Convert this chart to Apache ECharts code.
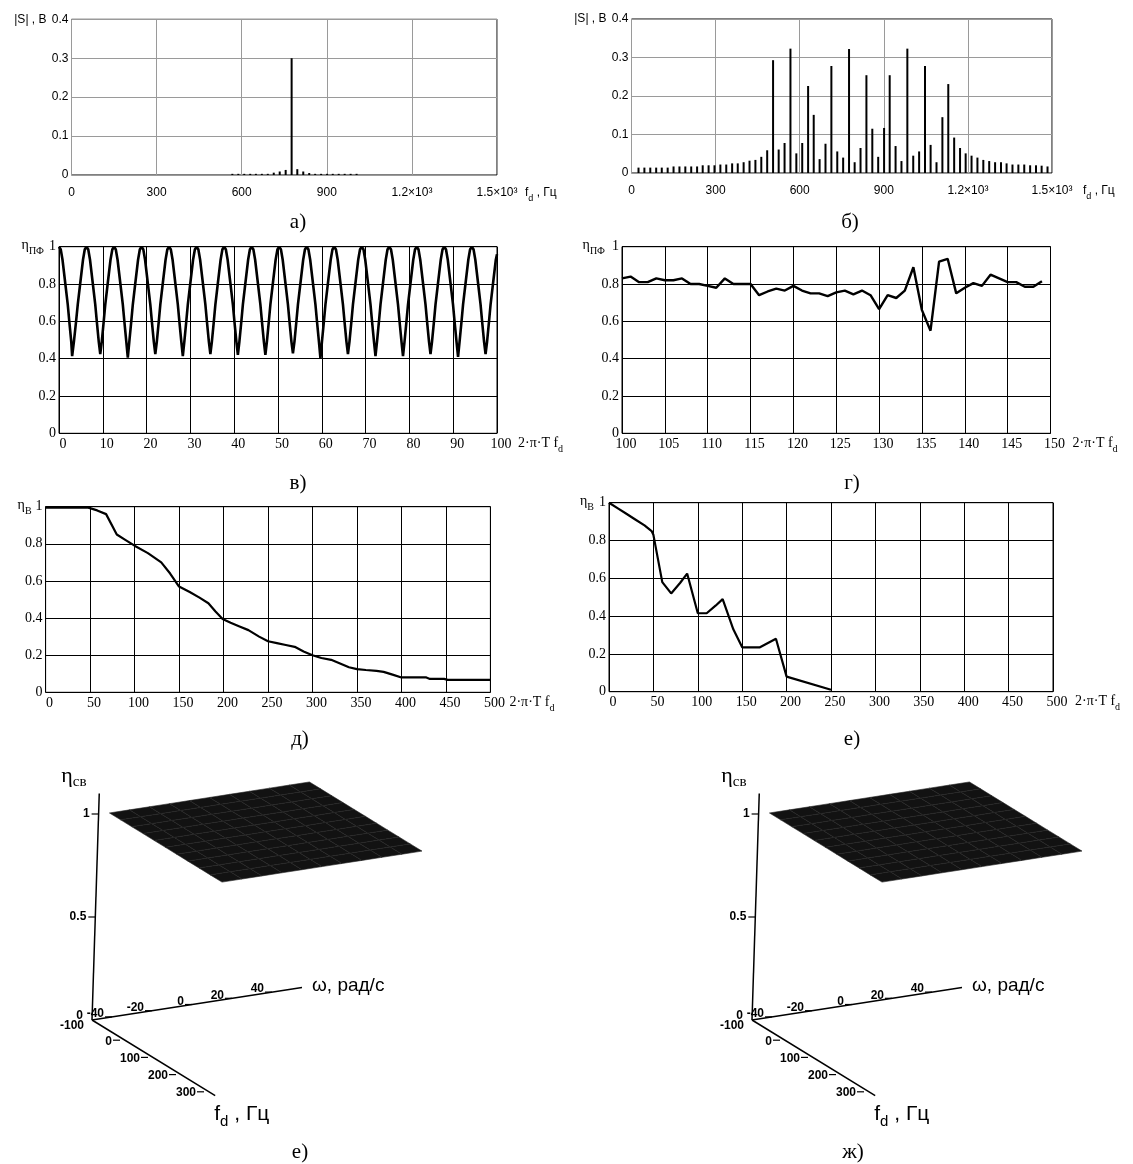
<!DOCTYPE html>
<html><head><meta charset="utf-8">
<script src="https://cdn.jsdelivr.net/npm/echarts@6/dist/echarts.min.js"></script>
<style>html,body{margin:0;padding:0;background:#fff}#c{width:1133px;height:1164px}</style>
</head><body><div id="c"></div>
<script>
// ---------------- DATA ----------------
const specFreq = [25,46,67,88,108,129,150,171,192,213,234,254,275,296,317,338,359,379,400,421,442,463,484,505,525,546,567,588,609,630,650,671,692,713,734,755,776,796,817,838,859,880,901,921,942,963,984,1005,1026,1047,1067,1088,1109,1130,1151,1172,1192,1213,1234,1255,1276,1297,1318,1338,1359,1380,1401,1422,1443,1463,1484];
const specA = [0,0,0,0,0,0,0,0,0,0,0,0,0,0,0,0,0,0,0,0,0,0,0,0,0,0,
  0.003,0.003,0.003,0.003,0.003,0.003,0.003,0.006,0.009,0.013,0.300,0.015,0.009,0.005,0.003,0.003,0.003,0.003,0.003,0.003,0.003,0.003,
  0,0,0,0,0,0,0,0,0,0,0,0,0,0,0,0,0,0,0,0,0,0,0];
const specB = [0.014,0.014,0.014,0.014,0.014,0.014,0.017,0.017,0.017,0.017,0.017,0.020,0.020,0.020,0.022,0.022,0.025,0.025,0.028,0.032,
  0.034,0.042,0.059,0.293,0.061,0.078,0.323,0.051,0.078,0.226,0.151,0.036,0.076,0.278,0.056,0.040,0.322,0.028,0.065,0.254,
  0.115,0.042,0.117,0.254,0.070,0.031,0.323,0.045,0.056,0.278,0.073,0.028,0.145,0.231,0.092,0.065,0.051,0.045,0.040,0.034,
  0.031,0.028,0.028,0.025,0.022,0.022,0.022,0.020,0.020,0.019,0.017];
const specTickLabels = {0:'0',300:'300',600:'600',900:'900',1200:'1.2×10³',1500:'1.5×10³'};

const etaPF1 = [
[0,1],[0.4,0.985],[0.8,0.93],[1.45,0.8],[2,0.69],[2.35,0.6],[2.8,0.49],[3.0,0.414],[3.4,0.49],[3.9,0.6],[4.28,0.69],[4.83,0.8],[5.48,0.93],[5.88,0.985],
[6.28,1],[6.68,0.985],[7.08,0.93],[7.73,0.8],[8.28,0.69],[8.63,0.6],[9.08,0.49],[9.42,0.425],[9.76,0.49],[10.21,0.6],[10.56,0.69],[11.11,0.8],[11.76,0.93],[12.17,0.985],
[12.57,1],[12.97,0.985],[13.37,0.93],[14.02,0.8],[14.57,0.69],[14.92,0.6],[15.37,0.49],[15.71,0.405],[16.05,0.49],[16.5,0.6],[16.85,0.69],[17.4,0.8],[18.05,0.93],[18.45,0.985],
[18.85,1],[19.25,0.985],[19.65,0.93],[20.3,0.8],[20.85,0.69],[21.2,0.6],[21.65,0.49],[21.99,0.425],[22.33,0.49],[22.78,0.6],[23.13,0.69],[23.68,0.8],[24.33,0.93],[24.73,0.985],
[25.13,1],[25.53,0.985],[25.93,0.93],[26.58,0.8],[27.13,0.69],[27.48,0.6],[27.93,0.49],[28.27,0.414],[28.61,0.49],[29.06,0.6],[29.41,0.69],[29.96,0.8],[30.61,0.93],[31.02,0.985],
[31.42,1],[31.82,0.985],[32.22,0.93],[32.87,0.8],[33.42,0.69],[33.77,0.6],[34.22,0.49],[34.56,0.425],[34.9,0.49],[35.35,0.6],[35.7,0.69],[36.25,0.8],[36.9,0.93],[37.3,0.985],
[37.7,1],[38.1,0.985],[38.5,0.93],[39.15,0.8],[39.7,0.69],[40.05,0.6],[40.5,0.49],[40.84,0.42],[41.18,0.49],[41.63,0.6],[41.98,0.69],[42.53,0.8],[43.18,0.93],[43.58,0.985],
[43.98,1],[44.38,0.985],[44.78,0.93],[45.43,0.8],[45.98,0.69],[46.33,0.6],[46.78,0.49],[47.12,0.42],[47.46,0.49],[47.91,0.6],[48.26,0.69],[48.81,0.8],[49.46,0.93],[49.87,0.985],
[50.27,1],[50.67,0.985],[51.07,0.93],[51.72,0.8],[52.27,0.69],[52.62,0.6],[53.07,0.49],[53.41,0.428],[53.75,0.49],[54.2,0.6],[54.55,0.69],[55.1,0.8],[55.75,0.93],[56.15,0.985],
[56.55,1],[56.95,0.985],[57.35,0.93],[58,0.8],[58.55,0.69],[58.9,0.6],[59.35,0.49],[59.69,0.402],[60.03,0.49],[60.48,0.6],[60.83,0.69],[61.38,0.8],[62.03,0.93],[62.43,0.985],
[62.83,1],[63.23,0.985],[63.63,0.93],[64.28,0.8],[64.83,0.69],[65.18,0.6],[65.63,0.49],[65.97,0.425],[66.31,0.49],[66.76,0.6],[67.11,0.69],[67.66,0.8],[68.31,0.93],[68.72,0.985],
[69.12,1],[69.52,0.985],[69.92,0.93],[70.57,0.8],[71.12,0.69],[71.47,0.6],[71.92,0.49],[72.26,0.414],[72.6,0.49],[73.05,0.6],[73.4,0.69],[73.95,0.8],[74.6,0.93],[75.0,0.985],
[75.4,1],[75.8,0.985],[76.2,0.93],[76.85,0.8],[77.4,0.69],[77.75,0.6],[78.2,0.49],[78.54,0.414],[78.88,0.49],[79.33,0.6],[79.68,0.69],[80.23,0.8],[80.88,0.93],[81.28,0.985],
[81.68,1],[82.08,0.985],[82.48,0.93],[83.13,0.8],[83.68,0.69],[84.03,0.6],[84.48,0.49],[84.82,0.425],[85.16,0.49],[85.61,0.6],[85.96,0.69],[86.51,0.8],[87.16,0.93],[87.56,0.985],
[87.96,1],[88.36,0.985],[88.76,0.93],[89.41,0.8],[89.96,0.69],[90.31,0.6],[90.76,0.49],[91.11,0.41],[91.45,0.49],[91.9,0.6],[92.25,0.69],[92.8,0.8],[93.45,0.93],[93.85,0.985],
[94.25,1],[94.65,0.985],[95.05,0.93],[95.7,0.8],[96.25,0.69],[96.6,0.6],[97.05,0.49],[97.39,0.425],[97.73,0.49],[98.18,0.6],[98.53,0.69],[99.08,0.8],[99.73,0.93],[100,0.96]
];
const etaPF2x = [100,101,102,103,104,105,106,107,108,109,110,111,112,113,114,115,116,117,118,119,120,121,122,123,124,125,126,127,128,129,130,131,132,133,134,135,136,137,138,139,140,141,142,143,144,145,146,147,148,149];
const etaPF2y = [0.83,0.84,0.81,0.81,0.83,0.82,0.82,0.83,0.80,0.80,0.79,0.78,0.83,0.80,0.80,0.80,0.74,0.76,0.775,0.765,0.79,0.765,0.75,0.75,0.735,0.755,0.765,0.745,0.765,0.74,0.665,0.74,0.725,0.765,0.89,0.66,0.55,0.92,0.935,0.75,0.78,0.805,0.79,0.85,0.83,0.81,0.81,0.785,0.785,0.815];
const etaB1 = [[0,0.995],[10,0.995],[20,0.995],[30,0.995],[40,0.995],[48,0.995],[58,0.98],[68,0.96],[80,0.85],[90,0.82],[100,0.79],[115,0.75],[130,0.70],[140,0.64],[150,0.57],[162,0.54],[173,0.51],[183,0.48],[191,0.435],[199,0.395],[208,0.375],[218,0.355],[228,0.335],[240,0.30],[250,0.275],[260,0.265],[270,0.255],[280,0.245],[290,0.22],[300,0.20],[310,0.185],[321,0.175],[331,0.155],[341,0.135],[350,0.125],[360,0.12],[372,0.115],[380,0.11],[390,0.095],[400,0.08],[410,0.08],[428,0.08],[432,0.072],[448,0.072],[452,0.067],[500,0.067]];
const etaB2 = [[0,1.0],[10,0.97],[20,0.94],[30,0.91],[40,0.88],[48,0.85],[50,0.83],[60,0.58],[70,0.52],[80,0.575],[88,0.625],[90,0.615],[100,0.415],[110,0.415],[120,0.455],[128,0.49],[130,0.48],[140,0.33],[150,0.235],[170,0.235],[188,0.28],[190,0.275],[200,0.08],[250,0.01]];

// 3D panels (е, ж): surface η_св = 1 over ω, f_d
const surfOmega = [-45,-35,-25,-15,-5,5,15,25,35,45,55];
const surfFd = [-97,-57,-17,23,63,103,143,183,223,263,305];
const surfEta = 1;
const omegaTicks = [-40,-20,0,20,40];
const fdTicks = [-100,0,100,200,300];
const etaTicks = [0,0.5,1];
const panelTitles = ['а)','б)','в)','г)','д)','е)','е)','ж)'];

// ---------------- LAYOUT ----------------
const chart = echarts.init(document.getElementById('c'), null, {renderer:'canvas'});
const SANS = '"Liberation Sans", Arial, sans-serif';
const SERIF = '"Liberation Serif", "Times New Roman", serif';

const grids = [
  {left:71.5, top:19.3, width:425.5, height:155.7},
  {left:631.5, top:19, width:420.5, height:154},
  {left:59, top:246.7, width:438, height:186.6},
  {left:622, top:246.7, width:428.5, height:186.6},
  {left:45.6, top:506.7, width:444.8, height:185.6},
  {left:609, top:502.7, width:444, height:189},
  {left:0, top:0, width:1133, height:1164, show:false}
].map((g,i)=>Object.assign({outerBoundsMode:'none', containLabel:false, show: i<6, borderColor:'#000', borderWidth:1, backgroundColor:'transparent'}, g));

function richName(main, sub, rest, font, size, subSize){
  return {
    text: '{m|'+main+'}{s|'+sub+'}' + (rest ? '{m|'+rest+'}' : ''),
    rich: {
      m:{fontFamily:font, fontSize:size, lineHeight:size+2, verticalAlign:'top', color:'#000'},
      s:{fontFamily:font, fontSize:subSize, lineHeight:subSize, padding:[Math.round(size*0.55),0,0,0], verticalAlign:'top', color:'#000'}
    }
  };
}

function specX(gi, gap){
  const n = richName('f','d',' , Гц', SANS, 12, 9);
  return {gridIndex:gi, type:'value', min:0, max:1500, interval:300,
    axisLine:{show:false}, axisTick:{show:false},
    splitLine:{show:true, lineStyle:{color:'#9a9a9a', width:1}},
    axisLabel:{margin:12, color:'#000', fontFamily:SANS, fontSize:12, formatter:v=>specTickLabels[v]},
    name:n.text, nameLocation:'end', nameGap:gap, nameMoveOverlap:false,
    nameTextStyle:{align:'left', verticalAlign:'top', padding:[12,0,0,0], rich:n.rich}};
}
function specY(gi){
  return {gridIndex:gi, type:'value', min:0, max:0.4, interval:0.1,
    axisLine:{show:false}, axisTick:{show:false},
    splitLine:{show:true, lineStyle:{color:'#9a9a9a', width:1}},
    axisLabel:{margin:3, color:'#000', fontFamily:SANS, fontSize:12, formatter:v=>String(+v.toFixed(1))},
    name:'|S| , В', nameLocation:'end', nameGap:0, nameMoveOverlap:false,
    nameTextStyle:{align:'right', verticalAlign:'middle', padding:[0,25,0,0], fontFamily:SANS, fontSize:12, color:'#000'}};
}
function effX(gi, min, max, iv, gap){
  const n = richName('2·π·T f','d','', SERIF, 14, 10);
  return {gridIndex:gi, type:'value', min:min, max:max, interval:iv,
    axisLine:{show:false}, axisTick:{show:false},
    splitLine:{show:true, lineStyle:{color:'#000', width:1}},
    axisLabel:{margin:4, padding:[0,0,0,8], color:'#000', fontFamily:SERIF, fontSize:14},
    name:n.text, nameLocation:'end', nameGap:gap, nameMoveOverlap:false,
    nameTextStyle:{align:'left', verticalAlign:'top', padding:[3,0,0,0], rich:n.rich}};
}
function effY(gi, sub, pad){
  const n = richName('η', sub, '', SERIF, 14, 10);
  return {gridIndex:gi, type:'value', min:0, max:1, interval:0.2,
    axisLine:{show:false}, axisTick:{show:false},
    splitLine:{show:true, lineStyle:{color:'#000', width:1}},
    axisLabel:{margin:3, color:'#000', fontFamily:SERIF, fontSize:14, formatter:v=>String(+v.toFixed(1))},
    name:n.text, nameLocation:'end', nameGap:0, nameMoveOverlap:false,
    nameTextStyle:{align:'right', verticalAlign:'middle', padding:[0,pad,0,0], rich:n.rich}};
}

const xAxes = [specX(0,28), specX(1,31), effX(2,0,100,10,21), effX(3,100,150,5,22), effX(4,0,500,50,19), effX(5,0,500,50,22),
  {gridIndex:6, type:'value', min:0, max:1133, show:false}];
const yAxes = [specY(0), specY(1), effY(2,'ПФ',15), effY(3,'ПФ',17), effY(4,'В',14), effY(5,'В',15),
  {gridIndex:6, type:'value', min:0, max:1164, inverse:true, show:false}];

// 3D projection (screen px per unit along each data axis)
const P3 = {o:[92,1020], w0:-50, f0:-100, w:[2.0,-0.31], f:[0.28,0.172], e:[6.6,-206]};
const W_END = 55, F_END = 340, E_END = 1.1;

function render3D(params, api){
  const dx = api.value(0);
  const P = (w,f,e) => api.coord([P3.o[0]+dx+(w-P3.w0)*P3.w[0]+(f-P3.f0)*P3.f[0]+e*P3.e[0],
                                  P3.o[1]+(w-P3.w0)*P3.w[1]+(f-P3.f0)*P3.f[1]+e*P3.e[1]]);
  const ch = [];
  const tickFont = 'bold 12px ' + SANS;
  for (let i=0;i<surfOmega.length-1;i++){
    for (let j=0;j<surfFd.length-1;j++){
      const pts = [P(surfOmega[i],surfFd[j],surfEta), P(surfOmega[i+1],surfFd[j],surfEta),
                   P(surfOmega[i+1],surfFd[j+1],surfEta), P(surfOmega[i],surfFd[j+1],surfEta)];
      ch.push({type:'polygon', shape:{points:pts}, style:{fill:'#121212', stroke:'#252525', lineWidth:0.6}});
    }
  }
  const o = P(P3.w0,P3.f0,0);
  const axStyle = {stroke:'#000', lineWidth:1.5};
  [[P3.w0,P3.f0,E_END],[W_END,P3.f0,0],[P3.w0,F_END,0]].forEach(e=>{
    const p = P(e[0],e[1],e[2]);
    ch.push({type:'line', shape:{x1:o[0],y1:o[1],x2:p[0],y2:p[1]}, style:axStyle});
  });
  const lbl = (x,y,t,al,va,font)=>({type:'text', x:x, y:y, style:{text:t, font:font||tickFont, fill:'#000',
      align:al||'right', verticalAlign:va||'middle', textAlign:al||'right', textVerticalAlign:va||'middle'}});
  etaTicks.forEach(e=>{
    const p = P(P3.w0,P3.f0,e);
    if (e>0) ch.push({type:'line', shape:{x1:p[0]-7,y1:p[1],x2:p[0],y2:p[1]}, style:{stroke:'#000',lineWidth:1.2}});
    ch.push(lbl(p[0]-9, p[1]-(e===0?4:0), String(e)));
  });
  omegaTicks.forEach(w=>{
    const p = P(w,P3.f0,0);
    ch.push({type:'line', shape:{x1:p[0]-7,y1:p[1],x2:p[0],y2:p[1]}, style:{stroke:'#000',lineWidth:1.2}});
    ch.push(lbl(p[0]-8, p[1]-3, String(w)));
  });
  fdTicks.forEach(f=>{
    const p = P(P3.w0,f,0);
    if (f>P3.f0) ch.push({type:'line', shape:{x1:p[0]-7,y1:p[1]+3,x2:p[0],y2:p[1]+3}, style:{stroke:'#000',lineWidth:1.2}});
    ch.push(lbl(p[0]-8, p[1]+(f===P3.f0?6:4), String(f)));
  });
  const top = P(P3.w0,P3.f0,E_END);
  ch.push({type:'text', x:top[0]-38, y:top[1]-28, style:{text:'{m|η}{s|св}', fill:'#000', align:'left', verticalAlign:'top', textAlign:'left', textVerticalAlign:'top',
    rich:{m:{font:'22px '+SERIF, lineHeight:22, verticalAlign:'top'}, s:{font:'15px '+SERIF, lineHeight:15, padding:[9,0,0,0], verticalAlign:'top'}}}});
  const we = P(W_END,P3.f0,0);
  ch.push(lbl(we[0]+10, we[1]-2, 'ω, рад/с', 'left', 'middle', '19px '+SANS));
  const fe = P(P3.w0,F_END,0);
  ch.push({type:'text', x:fe[0]-1, y:fe[1]+8, style:{text:'{m|f}{s|d}{m| , Гц}', fill:'#000', align:'left', verticalAlign:'top', textAlign:'left', textVerticalAlign:'top',
    rich:{m:{font:'21px '+SANS, lineHeight:22, verticalAlign:'top'}, s:{font:'15px '+SANS, lineHeight:15, padding:[11,0,0,0], verticalAlign:'top'}}}});
  return {type:'group', children:ch};
}

const lineStyle = w => ({color:'#000', width:w});
const series = [
  {type:'bar', xAxisIndex:0, yAxisIndex:0, barWidth:2, itemStyle:{color:'#000'}, data:specFreq.map((f,i)=>[f,specA[i]])},
  {type:'bar', xAxisIndex:1, yAxisIndex:1, barWidth:2, itemStyle:{color:'#000'}, data:specFreq.map((f,i)=>[f,specB[i]])},
  {type:'line', xAxisIndex:2, yAxisIndex:2, showSymbol:false, lineStyle:lineStyle(2.6), data:etaPF1},
  {type:'line', xAxisIndex:3, yAxisIndex:3, showSymbol:false, lineStyle:lineStyle(2.4), data:etaPF2x.map((x,i)=>[x,etaPF2y[i]])},
  {type:'line', xAxisIndex:4, yAxisIndex:4, showSymbol:false, lineStyle:lineStyle(2.2), data:etaB1},
  {type:'line', xAxisIndex:5, yAxisIndex:5, showSymbol:false, lineStyle:lineStyle(2.2), data:etaB2},
  {type:'custom', xAxisIndex:6, yAxisIndex:6, clip:false, renderItem:render3D, data:[[0],[660]]}
];

const titlePos = [[298,222],[850,222],[298,483],[852,483],[300,739],[852,739],[300,1152],[853,1152]];
const graphic = panelTitles.map((t,i)=>({type:'text', x:titlePos[i][0], y:titlePos[i][1],
  style:{text:t, font:'21px '+SERIF, fill:'#000', align:'center', verticalAlign:'middle', textAlign:'center', textVerticalAlign:'middle'}}));

chart.setOption({
  animation:false,
  backgroundColor:'#fff',
  grid:grids, xAxis:xAxes, yAxis:yAxes, series:series, graphic:graphic
});
</script></body></html>
